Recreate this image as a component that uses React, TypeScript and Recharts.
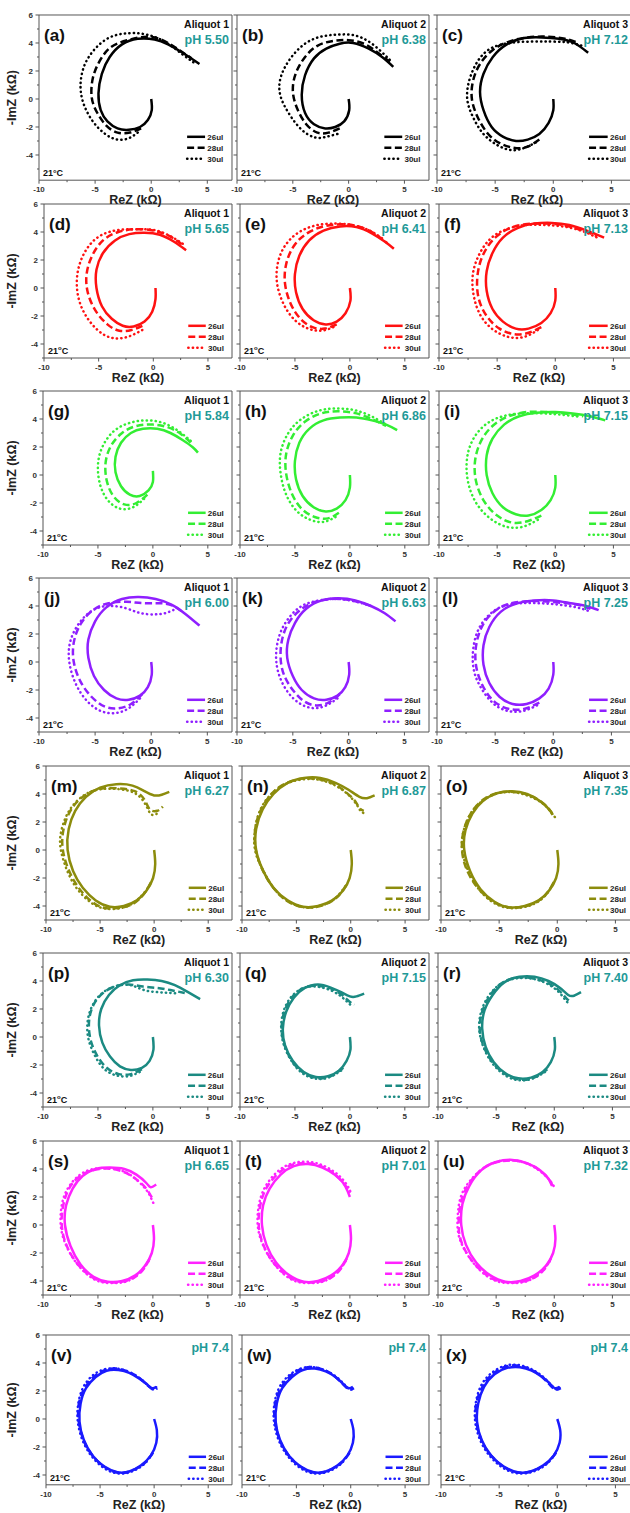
import React from "react";
import { LineChart, Line, XAxis, YAxis, ReferenceArea } from "recharts";

// ---- curve data (ReZ, -ImZ) in kΩ ----
const a26 = "0,0 0.05,-0.8 -0.3,-1.5 -1,-2 -2,-2.2 -3,-2.1 -3.9,-1.6 -4.5,-0.8 -4.7,0.4 -4.4,1.8 -3.7,3 -2.6,3.9 -1.2,4.3 0.3,4.25 1.5,3.9 2.8,3.3 4.3,2.5";
const a28 = "-0.9,-2.1 -1.9,-2.4 -3,-2.4 -4,-1.9 -4.8,-1 -5.3,0.1 -5.2,1.5 -4.6,2.7 -3.6,3.7 -2.1,4.2 -0.4,4.45 1,4.2 2.3,3.6 3.6,2.9";
const a30 = "-1.2,-2.4 -2,-2.8 -3,-2.9 -4.1,-2.5 -5.2,-1.6 -6,-0.4 -6.3,0.9 -6,2.3 -5.1,3.5 -3.7,4.4 -2,4.7 -0.4,4.6 1.2,4.1 2.6,3.3 3.8,2.6";
const b26 = "0,0 0.05,-0.8 -0.4,-1.6 -1.2,-2 -2.1,-2.1 -3.1,-1.8 -3.9,-1 -4.2,0.3 -3.9,1.7 -3.1,2.9 -2,3.6 -0.8,3.95 0.4,4 1.8,3.6 3,3 4,2.3";
const b28 = "-0.8,-2.1 -1.8,-2.4 -2.8,-2.4 -3.8,-1.8 -4.6,-0.7 -5,0.6 -4.7,1.9 -3.9,3 -2.8,3.8 -1.4,4.15 0,4.2 1.5,3.9 2.8,3.2 3.8,2.6";
const b30 = "-1,-2.5 -2,-2.7 -3,-2.75 -4.2,-2.2 -5.3,-1.1 -6.1,0.2 -6.1,1.5 -5.3,2.8 -4,3.9 -2.5,4.45 -1,4.6 0.5,4.55 2,4 3.3,3.1 3.8,2.7";
const c26 = "0,0 0,-0.8 -0.4,-1.7 -1.2,-2.5 -2.2,-2.9 -3.2,-3 -4.3,-2.7 -5.3,-2 -6,-0.8 -6.3,0.5 -6,1.8 -5.2,3 -4,3.9 -2.5,4.35 -1,4.4 0.5,4.3 1.8,4 3,3.3";
const c28 = "-1.2,-2.9 -2.2,-3.4 -3.3,-3.5 -4.5,-3.2 -5.6,-2.5 -6.5,-1.3 -7,0 -6.9,1.3 -6.3,2.5 -5.2,3.5 -3.8,4.1 -2.2,4.4 -0.5,4.45 1,4.3 2.2,4";
const c30 = "-1.5,-3.1 -2.5,-3.5 -3.6,-3.65 -4.8,-3.3 -6,-2.5 -6.9,-1.3 -7.4,0 -7.2,1.4 -6.5,2.7 -5.4,3.6 -3.8,4 -2,4.1 -0.3,4.1 1.2,4.05 2.5,3.8";
const d26 = "0.2,0 0.2,-0.8 -0.1,-1.7 -0.8,-2.4 -1.8,-2.75 -2.8,-2.7 -3.8,-2.2 -4.7,-1.3 -5.2,0 -5.2,1.3 -4.6,2.5 -3.5,3.4 -2.2,3.85 -0.8,3.95 0.6,3.8 1.9,3.3 3,2.7";
const d28 = "-1,-2.7 -2,-3 -3.1,-3.05 -4.2,-2.6 -5.3,-1.6 -6,-0.3 -6.1,1 -5.6,2.3 -4.6,3.4 -3.2,4 -1.6,4.2 0,4.1 1.5,3.7 2.8,3";
const d30 = "-1,-3 -2.2,-3.45 -3.4,-3.6 -4.6,-3.3 -5.8,-2.4 -6.7,-1.1 -7,0.4 -6.7,1.8 -5.9,3 -4.7,3.8 -3.1,4.15 -1.3,4.2 0.3,4.1 1.8,3.6 3,3";
const e26 = "0,0 0.05,-0.9 -0.4,-1.8 -1.2,-2.4 -2.2,-2.6 -3.3,-2.3 -4.3,-1.5 -4.9,-0.3 -5,1 -4.6,2.3 -3.7,3.4 -2.4,4.1 -0.9,4.4 0.6,4.35 2,3.9 3.2,3.3 4,2.8";
const e28 = "-1.2,-2.6 -2.3,-2.9 -3.4,-2.8 -4.5,-2.2 -5.4,-1.1 -5.9,0.3 -5.8,1.7 -5.1,3 -3.9,3.9 -2.4,4.4 -0.8,4.55 0.8,4.4 2.2,3.9 3.4,3.2";
const e30 = "-1.5,-2.8 -2.6,-3.05 -3.8,-2.9 -5,-2.3 -6,-1.2 -6.6,0.2 -6.6,1.6 -6,2.9 -4.8,3.9 -3.2,4.45 -1.5,4.6 0.2,4.5 1.8,4.1 3.2,3.4";
const f26 = "0,0 0,-0.9 -0.4,-1.8 -1.2,-2.5 -2.3,-2.9 -3.4,-2.9 -4.5,-2.4 -5.4,-1.5 -5.9,-0.2 -5.9,1.2 -5.4,2.5 -4.5,3.6 -3.2,4.3 -1.8,4.6 -0.3,4.65 1.2,4.5 2.7,4.1 4.2,3.6";
const f28 = "-1.2,-2.8 -2.3,-3.2 -3.5,-3.3 -4.8,-2.9 -5.9,-2 -6.6,-0.7 -6.7,0.8 -6.3,2.2 -5.4,3.4 -4.1,4.2 -2.6,4.55 -1,4.6 0.6,4.5 2.2,4.15 3.6,3.7";
const f30 = "-1.5,-3 -2.7,-3.5 -4,-3.5 -5.3,-3 -6.4,-2 -7,-0.6 -7.1,0.9 -6.6,2.3 -5.6,3.5 -4.2,4.2 -2.6,4.5 -1,4.5 0.6,4.4 2.2,4.1 3.6,3.6";
const g26 = "0,0.3 0,-0.5 -0.4,-1.1 -1.2,-1.5 -2.1,-1.4 -2.9,-0.8 -3.4,0.2 -3.4,1.3 -2.9,2.3 -2,3 -0.9,3.3 0.4,3.3 1.6,3 2.7,2.5 3.6,2 4.1,1.6";
const g28 = "-0.5,-1.4 -1.5,-2 -2.6,-2.1 -3.6,-1.5 -4.2,-0.4 -4.3,0.9 -3.8,2.1 -2.8,3 -1.5,3.5 0,3.6 1.4,3.4 2.6,2.9 3.6,2.2";
const g30 = "-0.8,-1.7 -1.8,-2.3 -3,-2.4 -4.1,-1.8 -4.8,-0.7 -5,0.7 -4.6,2 -3.6,3.1 -2.2,3.7 -0.6,3.9 1,3.7 2.4,3.1 3.5,2.4";
const h26 = "0,0 0,-0.9 -0.4,-1.8 -1.2,-2.4 -2.2,-2.6 -3.3,-2.3 -4.3,-1.5 -4.9,-0.3 -5,1 -4.6,2.3 -3.7,3.3 -2.4,3.9 -0.9,4.1 0.6,4.1 2,3.9 3.3,3.6 4.3,3.2";
const h28 = "-1,-2.7 -2,-3.1 -3.2,-3 -4.4,-2.4 -5.3,-1.3 -5.8,0.1 -5.8,1.5 -5.2,2.8 -4.1,3.8 -2.6,4.4 -1,4.55 0.6,4.4 2,4 3.3,3.5";
const h30 = "-1.3,-3 -2.4,-3.35 -3.6,-3.2 -4.8,-2.6 -5.8,-1.4 -6.3,0.1 -6.3,1.6 -5.6,3 -4.4,4 -2.8,4.6 -1.1,4.75 0.6,4.6 2.2,4.1 3.5,3.5";
const i26 = "0,0 0,-0.9 -0.4,-1.8 -1.2,-2.5 -2.3,-2.9 -3.4,-2.8 -4.5,-2.3 -5.4,-1.3 -5.9,0 -5.9,1.4 -5.4,2.6 -4.4,3.6 -3.1,4.2 -1.6,4.45 0,4.5 1.5,4.4 3,4.2 4.3,3.9";
const i28 = "-1.2,-2.9 -2.4,-3.3 -3.7,-3.4 -5,-2.9 -6.1,-1.9 -6.8,-0.5 -6.9,1 -6.4,2.4 -5.4,3.5 -4,4.2 -2.4,4.5 -0.8,4.5 0.8,4.4 2.4,4.2";
const i30 = "-1.5,-3.2 -2.8,-3.7 -4.2,-3.7 -5.6,-3.1 -6.8,-2 -7.5,-0.5 -7.6,1.1 -7.1,2.5 -6,3.6 -4.5,4.2 -2.8,4.4 -1.1,4.4 0.6,4.3 2.2,4.15";
const j26 = "0,0 0.05,-0.9 -0.3,-1.8 -1,-2.4 -2,-2.7 -3.1,-2.6 -4.2,-2 -5.1,-1 -5.6,0.3 -5.6,1.6 -5,2.9 -4,3.9 -2.6,4.5 -1.1,4.65 0.4,4.5 1.8,4.1 3.1,3.4 4.3,2.6";
const j28 = "-0.8,-2.3 -1.8,-3 -2.9,-3.3 -4.1,-3.2 -5.3,-2.5 -6.3,-1.4 -6.9,0 -6.9,1.4 -6.3,2.7 -5.2,3.7 -3.8,4.2 -2.2,4.3 -0.7,4.2 0.8,4.2 2,4 2.9,3.5";
const j30 = "-1,-2.6 -2,-3.3 -3.2,-3.65 -4.5,-3.5 -5.7,-2.8 -6.7,-1.6 -7.3,0 -7.2,1.5 -6.4,2.8 -5.2,3.7 -3.8,4 -2.3,3.85 -1,3.5 0.3,3.4 1.3,3.5 2.2,3.8";
const k26 = "0,0 0.05,-0.9 -0.3,-1.8 -1,-2.4 -2,-2.7 -3.1,-2.6 -4.2,-2 -5,-1 -5.5,0.3 -5.4,1.6 -4.8,2.8 -3.8,3.8 -2.4,4.4 -0.9,4.55 0.6,4.4 2,4 3.2,3.5 4.2,2.9";
const k28 = "-0.8,-2.3 -1.8,-2.9 -2.9,-3.1 -4,-2.8 -5,-2 -5.8,-0.9 -6.1,0.4 -5.9,1.8 -5.2,3 -4,3.9 -2.5,4.4 -0.8,4.5 0.8,4.3 2,4";
const k30 = "-1,-2.6 -2,-3.1 -3.1,-3.3 -4.3,-3 -5.4,-2.2 -6.2,-1 -6.5,0.4 -6.2,1.9 -5.4,3.1 -4.2,4 -2.6,4.4 -0.9,4.5 0.7,4.3 2,4";
const l26 = "0,0 0,-0.9 -0.4,-1.9 -1.2,-2.6 -2.3,-3 -3.5,-3 -4.6,-2.5 -5.5,-1.5 -6,-0.2 -6,1.2 -5.5,2.5 -4.5,3.6 -3.1,4.2 -1.6,4.4 0,4.4 1.5,4.2 2.8,4 3.9,3.7";
const l28 = "-1.2,-2.9 -2.3,-3.3 -3.5,-3.4 -4.8,-3 -5.8,-2.1 -6.5,-0.8 -6.7,0.6 -6.4,2 -5.6,3.2 -4.3,4 -2.8,4.3 -1.2,4.35 0.4,4.25 2,4.1 3.2,3.8";
const l30 = "-1.4,-3.1 -2.6,-3.5 -3.9,-3.5 -5.1,-3 -6.1,-2 -6.8,-0.7 -6.9,0.8 -6.5,2.2 -5.6,3.3 -4.3,4 -2.8,4.2 -1.2,4.2 0.4,4.1 2,3.9 3.2,3.6";
const m26 = "0,0 0.1,-1 -0.1,-2 -0.7,-2.9 -1.6,-3.6 -2.8,-4 -4.1,-4.05 -5.4,-3.6 -6.6,-2.7 -7.5,-1.5 -8,0 -7.9,1.5 -7.3,2.8 -6.3,3.8 -5,4.45 -3.5,4.7 -2,4.6 -0.9,4.2 0,3.9 0.7,3.95 1.4,4.15";
const m28 = "-0.3,-2.3 -1,-3.2 -2.1,-3.9 -3.4,-4.15 -4.8,-4.1 -6.2,-3.4 -7.4,-2.2 -8.2,-0.8 -8.5,0.6 -8.2,2 -7.4,3.2 -6.2,4 -4.8,4.4 -3.2,4.4 -1.8,4.2 -0.9,3.6 -0.4,2.9 0.3,2.8 0.8,3.1";
const m30 = "-0.4,-2.5 -1.2,-3.3 -2.3,-3.95 -3.6,-4.2 -5,-4.1 -6.4,-3.4 -7.6,-2.2 -8.4,-0.7 -8.7,0.7 -8.3,2.1 -7.5,3.2 -6.3,4 -4.9,4.35 -3.3,4.35 -1.9,4.1 -1,3.5 -0.5,2.8 -0.1,2.5 0.5,2.7";
const n26 = "0,0 0.1,-1 -0.1,-2 -0.7,-2.9 -1.7,-3.6 -3,-4 -4.4,-4.05 -5.8,-3.6 -7.1,-2.7 -8.1,-1.4 -8.7,0 -8.7,1.5 -8.1,2.9 -7.1,4 -5.8,4.8 -4.3,5.15 -2.8,5.15 -1.4,4.8 -0.2,4.3 0.8,3.8 1.5,3.7 2.2,3.9";
const n28 = "-0.4,-2.5 -1.3,-3.4 -2.6,-3.95 -4,-4.1 -5.5,-3.8 -6.9,-2.9 -8,-1.6 -8.7,-0.1 -8.8,1.4 -8.3,2.8 -7.3,4 -6,4.75 -4.4,5.1 -2.9,5.05 -1.5,4.7 -0.4,4.1 0.4,3.5 0.8,3 1.2,2.8";
const n30 = "-0.5,-2.6 -1.5,-3.5 -2.8,-4 -4.2,-4.1 -5.7,-3.7 -7,-2.8 -8.1,-1.4 -8.8,0 -8.8,1.5 -8.3,2.9 -7.3,4 -5.9,4.75 -4.3,5.05 -2.8,5 -1.4,4.6 -0.3,4 0.5,3.3 0.9,2.8 1.3,2.6";
const o26 = "0,0 0.1,-1 -0.1,-2 -0.7,-2.9 -1.6,-3.6 -2.8,-4 -4.1,-4.1 -5.4,-3.7 -6.6,-2.8 -7.5,-1.5 -8,0 -7.9,1.4 -7.3,2.6 -6.4,3.5 -5.2,4.05 -3.9,4.2 -2.6,4 -1.5,3.5 -0.7,2.9 -0.4,2.5";
const o28 = "-0.3,-2.3 -1,-3.2 -2.1,-3.85 -3.4,-4.1 -4.7,-4 -6,-3.4 -7.2,-2.3 -8,-0.9 -8.2,0.5 -7.9,1.8 -7.2,2.9 -6.2,3.7 -5,4.1 -3.7,4.15 -2.4,3.9 -1.3,3.4 -0.6,2.8 -0.3,2.4";
const o30 = "-0.4,-2.5 -1.2,-3.4 -2.3,-3.95 -3.6,-4.15 -4.9,-4 -6.2,-3.3 -7.3,-2.1 -8,-0.7 -8.2,0.7 -7.8,2 -7.1,3 -6,3.75 -4.8,4.1 -3.5,4.1 -2.3,3.8 -1.2,3.3 -0.6,2.75 -0.2,2.35";
const p26 = "0,0 0.05,-0.9 -0.3,-1.7 -1,-2.2 -2,-2.35 -3,-2.1 -3.9,-1.4 -4.6,-0.4 -4.9,0.8 -4.7,2 -4,3 -3,3.7 -1.8,4.05 -0.5,4.1 0.8,4 2,3.7 3.2,3.2 4.3,2.7";
const p28 = "-1,-2.3 -2,-2.65 -3.1,-2.65 -4.2,-2.2 -5.1,-1.3 -5.7,-0.1 -5.8,1.2 -5.4,2.3 -4.6,3.1 -3.5,3.6 -2.2,3.75 -0.9,3.6 0.4,3.5 1.6,3.35 2.9,3.15";
const p30 = "-1.2,-2.5 -2.2,-2.8 -3.3,-2.75 -4.4,-2.3 -5.3,-1.3 -5.9,0 -5.9,1.3 -5.4,2.4 -4.5,3.2 -3.3,3.65 -2,3.7 -0.8,3.35 0.5,3.2 1.5,3.15 2.3,3.1";
const q26 = "0,0 0.05,-0.9 -0.3,-1.7 -1,-2.4 -2,-2.8 -3.1,-2.85 -4.2,-2.5 -5.2,-1.7 -5.9,-0.6 -6.1,0.6 -5.8,1.8 -5.1,2.8 -4.1,3.5 -2.9,3.75 -1.8,3.55 -0.8,3.2 0,2.9 0.6,2.9 1.3,3.1";
const q28 = "-0.6,-2.2 -1.6,-2.75 -2.7,-2.95 -3.9,-2.7 -5,-2 -5.8,-0.9 -6.2,0.4 -6,1.7 -5.3,2.8 -4.2,3.5 -2.9,3.65 -1.7,3.45 -0.7,3 0,2.5 0.4,2.3";
const q30 = "-0.8,-2.4 -1.8,-2.85 -2.9,-3 -4.1,-2.7 -5.1,-1.95 -5.9,-0.8 -6.25,0.5 -6.05,1.8 -5.35,2.85 -4.25,3.5 -3,3.6 -1.8,3.35 -0.8,2.9 -0.1,2.4 0.3,2.15";
const r26 = "0,0 0.05,-0.9 -0.3,-1.8 -1,-2.5 -2,-2.9 -3.1,-2.95 -4.2,-2.6 -5.2,-1.8 -5.9,-0.7 -6.2,0.6 -6,1.9 -5.3,3 -4.3,3.9 -3,4.3 -1.7,4.3 -0.5,4 0.5,3.5 1.2,3 1.7,2.95 2.3,3.2";
const r28 = "-0.6,-2.3 -1.6,-2.85 -2.7,-3.05 -3.9,-2.8 -5,-2.1 -5.9,-1 -6.4,0.4 -6.2,1.8 -5.5,3 -4.5,3.85 -3.2,4.25 -1.9,4.2 -0.7,3.9 0.3,3.4 1,2.8 1.4,2.5";
const r30 = "-0.8,-2.5 -1.8,-2.95 -2.9,-3.1 -4.1,-2.8 -5.2,-2 -6,-0.9 -6.45,0.5 -6.25,1.9 -5.5,3.1 -4.4,3.9 -3.1,4.2 -1.8,4.15 -0.6,3.8 0.4,3.2 1,2.6 1.3,2.4";
const s26 = "0,0 0.1,-1 -0.1,-2 -0.7,-2.9 -1.6,-3.6 -2.8,-4 -4.1,-4.05 -5.4,-3.7 -6.6,-2.8 -7.5,-1.5 -8,0 -7.9,1.4 -7.3,2.6 -6.4,3.5 -5.2,4 -3.9,4.1 -2.6,4 -1.5,3.6 -0.6,3 -0.2,2.7 0.3,2.9";
const s28 = "-0.3,-2.4 -1,-3.3 -2.1,-3.9 -3.4,-4.1 -4.8,-4 -6.1,-3.4 -7.3,-2.3 -8.1,-0.9 -8.3,0.5 -8,1.9 -7.3,3 -6.2,3.7 -4.9,4 -3.6,4 -2.4,3.7 -1.4,3.2 -0.6,2.6 -0.2,2.1 0.1,1.8";
const s30 = "-0.4,-2.6 -1.2,-3.4 -2.3,-4 -3.6,-4.15 -5,-4 -6.3,-3.3 -7.4,-2.2 -8.2,-0.8 -8.4,0.6 -8.1,2 -7.3,3.1 -6.2,3.8 -4.9,4.05 -3.5,4 -2.3,3.7 -1.3,3.1 -0.5,2.4 -0.1,1.8 0.1,1.5";
const t26 = "0,0 0.1,-1 -0.1,-2 -0.7,-2.9 -1.7,-3.6 -2.9,-4 -4.2,-4.05 -5.5,-3.6 -6.7,-2.7 -7.6,-1.4 -8,0 -7.9,1.4 -7.3,2.6 -6.3,3.6 -5.1,4.2 -3.8,4.35 -2.5,4.1 -1.4,3.6 -0.6,3 -0.2,2.4 0,2";
const t28 = "-0.3,-2.4 -1,-3.3 -2.1,-3.9 -3.4,-4.1 -4.8,-4 -6.1,-3.4 -7.3,-2.3 -8.1,-0.9 -8.3,0.5 -8,1.9 -7.3,3 -6.2,3.9 -5,4.35 -3.6,4.4 -2.3,4.1 -1.2,3.5 -0.4,2.8 0,2.3";
const t30 = "-0.4,-2.6 -1.2,-3.4 -2.3,-4 -3.6,-4.15 -5,-4 -6.3,-3.3 -7.4,-2.2 -8.2,-0.8 -8.4,0.6 -8.1,2 -7.4,3.1 -6.3,4 -5,4.45 -3.6,4.5 -2.3,4.2 -1.1,3.6 -0.3,2.9 0.1,2.3";
const u26 = "0,0 0.1,-1 -0.1,-2 -0.7,-2.9 -1.7,-3.6 -2.9,-4 -4.2,-4.05 -5.5,-3.6 -6.7,-2.7 -7.6,-1.4 -8,0 -7.9,1.5 -7.3,2.8 -6.3,3.9 -5,4.5 -3.6,4.65 -2.3,4.4 -1.2,3.9 -0.5,3.3 -0.2,2.8";
const u28 = "-0.3,-2.4 -1,-3.3 -2.1,-3.9 -3.4,-4.1 -4.8,-4 -6.1,-3.4 -7.3,-2.3 -8.1,-0.9 -8.2,0.6 -7.9,2 -7.2,3.1 -6.2,4 -4.9,4.5 -3.5,4.6 -2.2,4.35 -1.1,3.8 -0.4,3.2 -0.1,2.7";
const u30 = "-0.4,-2.6 -1.2,-3.4 -2.3,-4 -3.6,-4.15 -5,-4 -6.3,-3.3 -7.4,-2.2 -8.2,-0.8 -8.3,0.7 -8,2.1 -7.2,3.2 -6.1,4.05 -4.8,4.55 -3.4,4.6 -2.1,4.3 -1,3.7 -0.3,3.1 0,2.7";
const v26 = "0,0 0.25,-0.8 0.2,-1.7 -0.3,-2.6 -1.2,-3.3 -2.3,-3.75 -3.4,-3.8 -4.6,-3.4 -5.7,-2.6 -6.5,-1.5 -6.9,-0.2 -6.8,1.1 -6.3,2.2 -5.4,3 -4.4,3.45 -3.3,3.5 -2.3,3.3 -1.4,2.9 -0.7,2.5 -0.2,2.2 0.2,2.3";
const v28 = "-0.1,-2.4 -0.8,-3.1 -1.8,-3.6 -2.9,-3.85 -4.1,-3.65 -5.3,-2.95 -6.3,-1.9 -6.9,-0.5 -7,0.9 -6.5,2.1 -5.6,3 -4.5,3.5 -3.4,3.6 -2.3,3.35 -1.4,2.95 -0.6,2.4 -0.1,2.1 0.3,2.2";
const v30 = "-0.2,-2.5 -0.9,-3.2 -1.9,-3.7 -3,-3.9 -4.2,-3.7 -5.4,-3 -6.4,-1.9 -7,-0.5 -7.05,0.9 -6.6,2.2 -5.7,3.1 -4.6,3.55 -3.4,3.6 -2.3,3.35 -1.3,2.9 -0.5,2.35 0,2.1 0.2,2.3";
const w26 = "0,0 0.25,-0.8 0.2,-1.7 -0.3,-2.6 -1.2,-3.3 -2.3,-3.75 -3.4,-3.8 -4.6,-3.4 -5.7,-2.6 -6.5,-1.5 -6.9,-0.2 -6.8,1.1 -6.3,2.2 -5.4,3 -4.4,3.5 -3.3,3.6 -2.3,3.4 -1.4,3 -0.7,2.5 -0.2,2.2 0.2,2.3";
const w28 = "-0.1,-2.4 -0.8,-3.1 -1.8,-3.6 -2.9,-3.85 -4.1,-3.65 -5.3,-2.95 -6.3,-1.9 -6.9,-0.5 -7,0.9 -6.5,2.1 -5.6,3.05 -4.5,3.6 -3.4,3.7 -2.3,3.45 -1.4,3 -0.6,2.4 -0.1,2.1 0.3,2.2";
const w30 = "-0.2,-2.5 -0.9,-3.2 -1.9,-3.7 -3,-3.9 -4.2,-3.7 -5.4,-3 -6.4,-1.9 -7,-0.5 -7.05,0.9 -6.6,2.2 -5.7,3.1 -4.6,3.6 -3.4,3.7 -2.3,3.45 -1.3,3 -0.5,2.4 0,2.1 0.2,2.3";
const x26 = "0,0 0.25,-0.8 0.2,-1.7 -0.3,-2.6 -1.2,-3.3 -2.3,-3.75 -3.4,-3.8 -4.6,-3.4 -5.7,-2.6 -6.5,-1.5 -6.9,-0.2 -6.8,1.1 -6.3,2.3 -5.4,3.2 -4.3,3.65 -3.2,3.7 -2.2,3.45 -1.3,3 -0.6,2.5 -0.2,2.2 0.2,2.3";
const x28 = "-0.1,-2.4 -0.8,-3.1 -1.8,-3.6 -2.9,-3.85 -4.1,-3.65 -5.3,-2.95 -6.3,-1.9 -6.9,-0.5 -7,0.9 -6.5,2.2 -5.6,3.2 -4.4,3.75 -3.3,3.8 -2.2,3.5 -1.3,3 -0.6,2.4 -0.1,2.1 0.3,2.2";
const x30 = "-0.2,-2.5 -0.9,-3.2 -1.9,-3.7 -3,-3.9 -4.2,-3.7 -5.4,-3 -6.4,-1.9 -7,-0.5 -7.05,0.9 -6.6,2.3 -5.7,3.25 -4.5,3.8 -3.3,3.85 -2.2,3.55 -1.2,3 -0.5,2.4 0,2.1 0.2,2.3";

const SERIES = [
  [a26, a28, a30], [b26, b28, b30], [c26, c28, c30],
  [d26, d28, d30], [e26, e28, e30], [f26, f28, f30],
  [g26, g28, g30], [h26, h28, h30], [i26, i28, i30],
  [j26, j28, j30], [k26, k28, k30], [l26, l28, l30],
  [m26, m28, m30], [n26, n28, n30], [o26, o28, o30],
  [p26, p28, p30], [q26, q28, q30], [r26, r28, r30],
  [s26, s28, s30], [t26, t28, t30], [u26, u28, u30],
  [v26, v28, v30], [w26, w28, w30], [x26, x28, x30],
];

const LETTERS = "abcdefghijklmnopqrstuvwx".split("");
const ALIQUOT = ["Aliquot 1", "Aliquot 2", "Aliquot 3"];
const PH = [
  "pH 5.50", "pH 6.38", "pH 7.12",
  "pH 5.65", "pH 6.41", "pH 7.13",
  "pH 5.84", "pH 6.86", "pH 7.15",
  "pH 6.00", "pH 6.63", "pH 7.25",
  "pH 6.27", "pH 6.87", "pH 7.35",
  "pH 6.30", "pH 7.15", "pH 7.40",
  "pH 6.65", "pH 7.01", "pH 7.32",
  "pH 7.4", "pH 7.4", "pH 7.4",
];
const VOLUMES = ["26ul", "28ul", "30ul"];
const ROW_COLORS = ["#000000", "#ff1111", "#33ee33", "#8f1fff", "#8c8c0c", "#1b8a82", "#ff22ff", "#1a1aff"];
const X_TICKS = [-10, -7.5, -5, -2.5, 0, 2.5, 5];
const X_MAJOR = [-10, -5, 0, 5];
const Y_TICKS = [-5, -4, -3, -2, -1, 0, 1, 2, 3, 4, 5, 6];
const Y_MAJOR = [-4, -2, 0, 2, 4, 6];

// ---- layout ----
const FONT = "'Liberation Sans', Arial, sans-serif";
const XMAX = 7.2;
const PX_Y = 14;
const PAGE_W = 630;
const PAGE_H = 1513;
const ROW_TOP = [15, 204, 391, 578, 766, 953, 1141, 1335];
const ROW_YMIN = [-5.8, -5, -5, -5, -5, -5, -5, -4.7];
const COL_LEFT = [
  [39, 237, 437], [44, 240, 439], [43, 240, 439], [39, 237, 437],
  [46, 242, 441], [43, 240, 438], [43, 240, 438], [46, 242, 441],
];
const COL_RIGHT = [232, 429];
const DASH = [undefined, "7 3.5", "0.3 4.2"];
const ML = 34, MT = 6, MB = 40, MR = 6;

const parse = (s: string) =>
  s.trim().split(/\s+/).map((p) => {
    const [x, y] = p.split(",").map(Number);
    return { x, y };
  });

function geom(idx: number) {
  const r = Math.floor(idx / 3), c = idx % 3;
  const L = COL_LEFT[r][c];
  const W = c < 2 ? COL_RIGHT[c] - L : 200;
  const T = ROW_TOP[r];
  const ymin = ROW_YMIN[r];
  const H = (6 - ymin) * PX_Y;
  const sx = (x: number) => L + ((x + 10) / (XMAX + 10)) * W;
  const sy = (y: number) => T + (6 - y) * PX_Y;
  return { r, c, L, W, T, H, ymin, sx, sy };
}

const XTickB = (p: any) => {
  const v = p.payload.value;
  const maj = X_MAJOR.includes(v);
  return (
    <g>
      <line x1={p.x} x2={p.x} y1={p.y} y2={p.y + (maj ? 3.5 : 2)} stroke="#555" />
      {maj && (
        <text x={p.x} y={p.y + 12} textAnchor="middle" fontSize={8} fontWeight="bold" fill="#333" fontFamily={FONT}>
          {v}
        </text>
      )}
    </g>
  );
};
const XTickT = (p: any) => {
  const maj = X_MAJOR.includes(p.payload.value);
  return <line x1={p.x} x2={p.x} y1={p.y} y2={p.y + (maj ? 3.5 : 2)} stroke="#555" />;
};
const makeYTick = (label: boolean) => (p: any) => {
  const v = p.payload.value;
  const maj = Y_MAJOR.includes(v);
  return (
    <g>
      <line x1={p.x} x2={p.x - (maj ? 3.5 : 2)} y1={p.y} y2={p.y} stroke="#555" />
      {label && maj && (
        <text x={p.x - 6} y={p.y + 3} textAnchor="end" fontSize={8} fontWeight="bold" fill="#333" fontFamily={FONT}>
          {v}
        </text>
      )}
    </g>
  );
};
const YTickR = (p: any) => {
  const maj = Y_MAJOR.includes(p.payload.value);
  return <line x1={p.x} x2={p.x - (maj ? 3.5 : 2)} y1={p.y} y2={p.y} stroke="#555" />;
};

function Panel({ idx }: { idx: number }) {
  const g = geom(idx);
  const color = ROW_COLORS[g.r];
  const w = g.W + ML + MR;
  const h = g.H + MT + MB;
  const yTicks = Y_TICKS.filter((t) => t >= g.ymin);
  return (
    <div style={{ position: "absolute", left: g.L - ML, top: g.T - MT, width: w, height: h }}>
      <LineChart width={w} height={h} margin={{ top: MT, right: MR, bottom: 0, left: 0 }}>
        <XAxis
          xAxisId={0} type="number" dataKey="x" domain={[-10, XMAX]} ticks={X_TICKS} interval={0}
          allowDataOverflow axisLine={false} tickLine={false} tickSize={0} tickMargin={0} height={MB} tick={XTickB}
        />
        <XAxis
          xAxisId="top" orientation="top" type="number" domain={[-10, XMAX]} ticks={X_TICKS} interval={0}
          axisLine={false} tickLine={false} tickSize={0} tickMargin={0} height={0} tick={XTickT}
        />
        <YAxis
          yAxisId={0} type="number" dataKey="y" domain={[g.ymin, 6]} ticks={yTicks} interval={0}
          allowDataOverflow axisLine={false} tickLine={false} tickSize={0} tickMargin={0} width={ML} tick={makeYTick(g.c === 0)}
        />
        <YAxis
          yAxisId="right" orientation="right" type="number" domain={[g.ymin, 6]} ticks={yTicks} interval={0}
          axisLine={false} tickLine={false} tickSize={0} tickMargin={0} width={0} tick={YTickR}
        />
        <ReferenceArea x1={-10} x2={XMAX} y1={g.ymin} y2={6} fill="none" stroke="#555" strokeWidth={1} />
        {SERIES[idx].map((s, k) => (
          <Line
            key={k}
            data={parse(s)}
            dataKey="y"
            type="natural"
            stroke={color}
            strokeWidth={2.5}
            strokeDasharray={DASH[k]}
            strokeLinecap={k === 2 ? "round" : "butt"}
            dot={false}
            isAnimationActive={false}
          />
        ))}
      </LineChart>
    </div>
  );
}

function Labels({ idx }: { idx: number }) {
  const g = geom(idx);
  const color = ROW_COLORS[g.r];
  const right = Math.min(g.L + g.W - 3, PAGE_W - 2);
  const lastRow = g.r === 7;
  const sup = g.r > 0 && g.r < 7;
  // legend: keep it inside the visible page for the clipped right-hand column
  const shift = Math.max(0, g.sx(5.0) + 19 - (PAGE_W - 1));
  const titleY = Math.min(g.T + g.H + 24, PAGE_H - 4);
  return (
    <g fontFamily={FONT} fontWeight="bold">
      <text x={g.L + 5} y={g.T + 26} fontSize={17} fill="#111">({LETTERS[idx]})</text>
      {!lastRow && (
        <text x={right} y={g.T + 13} fontSize={10.5} fill="#111" textAnchor="end">{ALIQUOT[g.c]}</text>
      )}
      <text x={right} y={g.T + (lastRow ? 17 : 29)} fontSize={12.5} fill="#1f9a98" textAnchor="end">{PH[idx]}</text>
      <text x={g.L + 4} y={g.T + g.H - 4} fontSize={9} fill="#111">
        {sup ? (
          <>
            21<tspan dy={-4} fontSize={6}>o</tspan>
            <tspan dy={4}>C</tspan>
          </>
        ) : (
          "21°C"
        )}
      </text>
      {VOLUMES.map((v, k) => {
        const yy = g.sy(-2.7 - k * 0.78);
        return (
          <g key={v}>
            <line
              x1={g.sx(3.2) - shift} x2={g.sx(4.8) - shift} y1={yy} y2={yy} stroke={color} strokeWidth={2.5}
              strokeDasharray={DASH[k]} strokeLinecap={k === 2 ? "round" : "butt"}
            />
            <text x={g.sx(5.0) - shift} y={yy + 3} fontSize={8} fill="#222">{v}</text>
          </g>
        );
      })}
      <text x={g.L + g.W / 2} y={titleY} fontSize={12.5} fill="#222" textAnchor="middle">ReZ (kΩ)</text>
      {g.c === 0 && (
        <text
          x={16} y={g.T + g.H / 2} fontSize={12.5} fill="#222" textAnchor="middle"
          transform={`rotate(-90 16 ${g.T + g.H / 2})`}
        >
          -ImZ (kΩ)
        </text>
      )}
    </g>
  );
}

export default function App() {
  const ids = LETTERS.map((_, i) => i);
  return (
    <div style={{ position: "absolute", left: 0, top: 0, width: PAGE_W, height: PAGE_H, overflow: "hidden", background: "#fff" }}>
      {ids.map((i) => (
        <Panel key={i} idx={i} />
      ))}
      <svg width={PAGE_W} height={PAGE_H} style={{ position: "absolute", left: 0, top: 0, pointerEvents: "none" }}>
        {ids.map((i) => (
          <Labels key={i} idx={i} />
        ))}
      </svg>
    </div>
  );
}
